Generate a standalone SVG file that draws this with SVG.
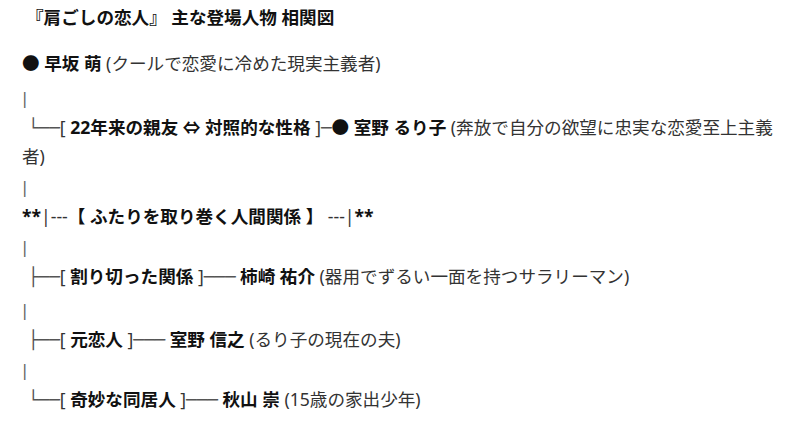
<svg xmlns="http://www.w3.org/2000/svg" width="800" height="429" viewBox="0 0 800 429">
<style>
text{font-family:"Noto Sans","Noto Sans CJK JP",sans-serif;font-size:17.6px;fill:#333}
.b{font-weight:bold;fill:#111}
.r{font-weight:normal;fill:#333}
.box{font-family:"DejaVu Sans",sans-serif;font-weight:normal;fill:#555}
.pipe{font-family:"DejaVu Sans",sans-serif;fill:#666;font-size:16px}
</style>
<rect width="800" height="429" fill="#fff"/>
<g id="title"><text x="26" y="24" class="b">『肩ごしの恋人』 主な登場人物 相関図</text></g>
<g id="connectors">
<text x="22" y="104" class="pipe">|</text>
<text x="22" y="193" class="pipe">|</text>
<text x="22" y="253" class="pipe">|</text>
<text x="22" y="316" class="pipe">|</text>
<text x="22" y="376" class="pipe">|</text>
</g>
<g id="node-moe"><text x="22" y="70"><tspan class="b">● 早坂 萌</tspan> (クールで恋愛に冷めた現実主義者)</text></g>
<g id="node-ruriko"><text x="28" y="134"><tspan class="box">└──</tspan><tspan class="r">[ </tspan><tspan class="b">22年来の親友 ⇔ 対照的な性格</tspan><tspan class="r"> ]</tspan><tspan class="box">─</tspan><tspan class="b">● 室野 るり子</tspan> (奔放で自分の欲望に忠実な恋愛至上主義</text>
<text x="22" y="163">者)</text></g>
<g id="section"><text x="22" y="223" class="b">**<tspan class="r">|---</tspan>【 ふたりを取り巻く人間関係 】 <tspan class="r">---|</tspan>**</text></g>
<g id="node-kakizaki"><text x="28" y="283"><tspan class="box">├──</tspan><tspan class="r">[ </tspan><tspan class="b">割り切った関係</tspan><tspan class="r"> ]</tspan><tspan class="box">───</tspan><tspan class="b"> 柿崎 祐介</tspan> (器用でずるい一面を持つサラリーマン)</text></g>
<g id="node-nobuyuki"><text x="28" y="346"><tspan class="box">├──</tspan><tspan class="r">[ </tspan><tspan class="b">元恋人</tspan><tspan class="r"> ]</tspan><tspan class="box">───</tspan><tspan class="b"> 室野 信之</tspan> (るり子の現在の夫)</text></g>
<g id="node-akiyama"><text x="28" y="406"><tspan class="box">└──</tspan><tspan class="r">[ </tspan><tspan class="b">奇妙な同居人</tspan><tspan class="r"> ]</tspan><tspan class="box">───</tspan><tspan class="b"> 秋山 崇</tspan> (15歳の家出少年)</text></g>
</svg>
